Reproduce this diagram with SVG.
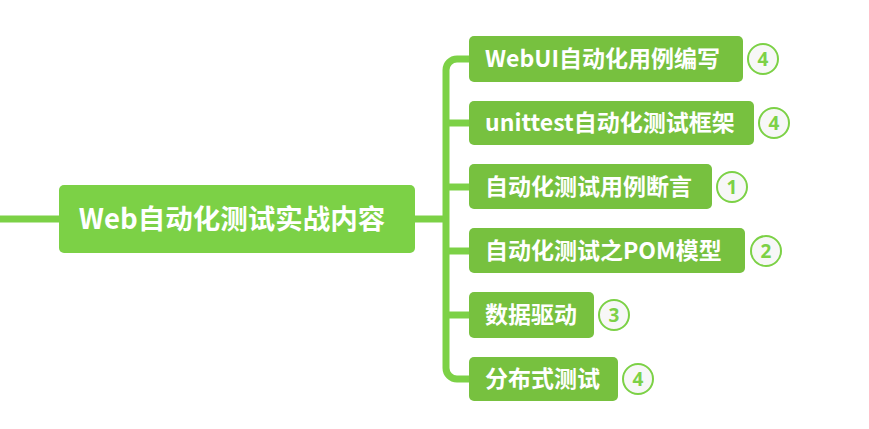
<svg xmlns="http://www.w3.org/2000/svg" width="869" height="429" viewBox="0 0 869 429">
<style>
.ln{fill:none;stroke:#7CD146;stroke-width:7}
.main{fill:#7CD146}
.child{fill:#77C13F}
.t{font-family:"Noto Sans CJK SC","Noto Sans",sans-serif;font-weight:bold;fill:#FFFFFF}
.bd{fill:#F7F7F7;stroke:#7CD146;stroke-width:2}
.bt{font-family:"Noto Sans","Liberation Sans",sans-serif;font-weight:bold;font-size:19px;fill:#7CD146;text-anchor:middle}
</style>
<rect width="869" height="429" fill="#FFFFFF"/>
<g id="connectors">
<line class="ln" x1="0" y1="219" x2="60" y2="219"/>
<line class="ln" x1="414" y1="219" x2="446" y2="219"/>
<path class="ln" d="M470 59 H457 A11 11 0 0 0 446 70 V368 A11 11 0 0 0 457 379 H470"/>
<line class="ln" x1="446" y1="123" x2="470" y2="123"/>
<line class="ln" x1="446" y1="187" x2="470" y2="187"/>
<line class="ln" x1="446" y1="251" x2="470" y2="251"/>
<line class="ln" x1="446" y1="315" x2="470" y2="315"/>
</g>
<g id="root">
<rect class="main" x="59" y="185" width="356" height="68" rx="5"/>
<text class="t" x="232" y="229" font-size="27.5" text-anchor="middle">Web自动化测试实战内容</text>
</g>
<g id="n1">
<rect class="child" x="469" y="36" width="274" height="46" rx="5"/>
<text class="t" x="485" y="67" font-size="23">WebUI自动化用例编写</text>
<circle class="bd" cx="763" cy="59" r="15"/>
<text class="bt" x="763" y="66">4</text>
</g>
<g id="n2">
<rect class="child" x="469" y="101" width="285" height="44" rx="5"/>
<text class="t" x="485" y="131" font-size="23">unittest自动化测试框架</text>
<circle class="bd" cx="774" cy="123" r="15"/>
<text class="bt" x="774" y="130">4</text>
</g>
<g id="n3">
<rect class="child" x="469" y="164" width="243" height="45" rx="5"/>
<text class="t" x="485" y="195" font-size="23">自动化测试用例断言</text>
<circle class="bd" cx="732" cy="187" r="15"/>
<text class="bt" x="732" y="194">1</text>
</g>
<g id="n4">
<rect class="child" x="469" y="228" width="276" height="45" rx="5"/>
<text class="t" x="485" y="259" font-size="23">自动化测试之POM模型</text>
<circle class="bd" cx="766" cy="251" r="15"/>
<text class="bt" x="766" y="258">2</text>
</g>
<g id="n5">
<rect class="child" x="469" y="292" width="125" height="46" rx="5"/>
<text class="t" x="485" y="323" font-size="23">数据驱动</text>
<circle class="bd" cx="614" cy="315" r="15"/>
<text class="bt" x="614" y="322">3</text>
</g>
<g id="n6">
<rect class="child" x="469" y="357" width="149" height="44" rx="5"/>
<text class="t" x="485" y="387" font-size="23">分布式测试</text>
<circle class="bd" cx="638" cy="379" r="15"/>
<text class="bt" x="638" y="386">4</text>
</g>
</svg>
